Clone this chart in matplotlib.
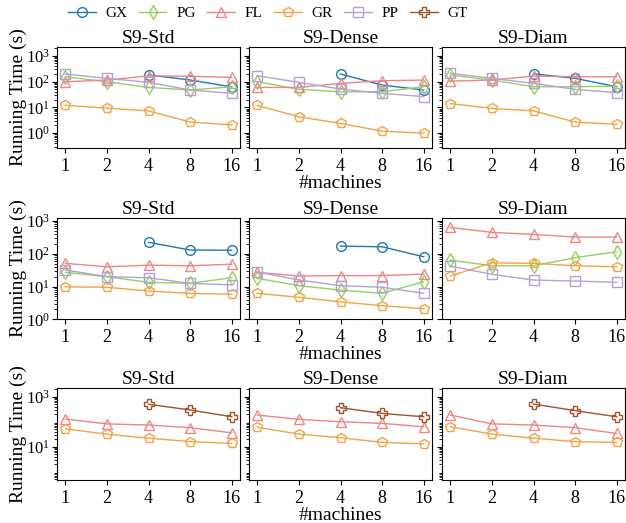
import numpy as np
import matplotlib
matplotlib.use("Agg")
import matplotlib.pyplot as plt
from matplotlib.ticker import LogLocator

plt.rcParams['font.family'] = ['Liberation Serif', 'DejaVu Serif']
plt.rcParams['mathtext.fontset'] = 'stix'

nan = np.nan

# x axis: number of machines
machines = ['1', '2', '4', '8', '16']
methods = ['GX', 'PG', 'FL', 'GR', 'PP', 'GT']
titles = ['S9-Std', 'S9-Dense', 'S9-Diam']

# row 1 running times (s)
r1_std = {'GX': [nan, nan, 180, 115, 62], 'PG': [153, 98, 59, 47, 62],
          'FL': [98, 114, 165, 160, 145], 'GR': [12, 9.3, 7.3, 2.7, 2.1],
          'PP': [195, 133, 93, 47, 35]}
r1_dense = {'GX': [nan, nan, 195, 73, 47], 'PG': [98, 50, 40, 40, 63],
            'FL': [59, 59, 85, 107, 114], 'GR': [12, 4.3, 2.4, 1.2, 1.0],
            'PP': [167, 93, 51, 35, 26]}
r1_diam = {'GX': [nan, nan, 200, 133, 63], 'PG': [178, 114, 63, 63, 66],
           'FL': [104, 114, 163, 153, 153], 'GR': [14, 9.1, 7.3, 2.7, 2.2],
           'PP': [208, 133, 85, 50, 37]}

# row 2 running times (s)
r2_std = {'GX': [nan, nan, 224, 130, 128], 'PG': [27, 20, 13.5, 12.5, 18.6],
          'FL': [51, 40, 45, 43, 48], 'GR': [9.8, 9.5, 7.3, 6.2, 5.8],
          'PP': [32, 20, 18.5, 12.5, 11.2]}
r2_dense = {'GX': [nan, nan, 171, 163, 81], 'PG': [17.8, 10.6, 7.8, 6.2, 14],
            'FL': [27, 21, 21.5, 21.5, 24], 'GR': [6.2, 4.7, 3.4, 2.6, 2.1],
            'PP': [28, 15.8, 10.6, 9.5, 6.2]}
r2_diam = {'PG': [64, 43, 43, 76, 115], 'FL': [635, 450, 390, 323, 323],
           'GR': [21, 53, 51, 43, 40], 'PP': [42, 23.6, 15.8, 14.7, 13.5]}

# row 3 running times (s)
r3_std = {'FL': [128, 82, 74, 58, 36], 'GR': [52, 32, 22, 16, 13.6],
          'GT': [nan, nan, 500, 295, 158]}
r3_dense = {'FL': [185, 125, 100, 86, 63], 'GR': [60, 32, 23, 15, 13],
            'GT': [nan, nan, 363, 215, 158]}
r3_diam = {'FL': [185, 82, 74, 58, 34], 'GR': [63, 32, 22, 16, 15],
           'GT': [nan, nan, 510, 277, 158]}

rows = [[r1_std, r1_dense, r1_diam],
        [r2_std, r2_dense, r2_diam],
        [r3_std, r3_dense, r3_diam]]
row_ylims = [(0.26, 2230), (1, 1260), (0.47, 2290)]
row_yticks = [[1, 10, 100, 1000], [1, 10, 100, 1000], [10, 1000]]

colors = {'GX': '#1f77b4', 'PG': '#93d160', 'FL': '#ef8585',
          'GR': '#f3a447', 'PP': '#b7a0d4', 'GT': '#a0522d'}
markers = {'GX': 'o', 'PG': 'd', 'FL': '^', 'GR': 'p', 'PP': 's', 'GT': 'P'}

W, H = 626, 523
fig = plt.figure(figsize=(W / 100, H / 100), dpi=100)

col_left = [57, 249, 442]
col_w = 183
row_box = [(46.7, 148.3), (217.7, 319.3), (387.7, 480)]

x = np.arange(len(machines))
handles = {}
for r, (top, bot) in enumerate(row_box):
    first = None
    for c in range(3):
        rect = [col_left[c] / W, 1 - bot / H, col_w / W, (bot - top) / H]
        ax = fig.add_axes(rect, sharey=first)
        if first is None:
            first = ax
        data = rows[r][c]
        for m in methods:
            if m not in data:
                continue
            ln, = ax.plot(x, data[m], color=colors[m], marker=markers[m],
                          markersize=7, markerfacecolor='none',
                          markeredgewidth=1.0, linewidth=1.0)
            handles[m] = ln
        ax.set_yscale('log')
        ax.set_yticks(row_yticks[r])
        ax.yaxis.set_minor_locator(LogLocator(base=10, subs=np.arange(2, 10), numticks=20))
        ax.set_ylim(*row_ylims[r])
        ax.set_xlim(-0.2, 4.2)
        ax.set_xticks(x)
        ax.set_xticklabels(machines)
        ax.tick_params(axis='x', labelsize=13)
        ax.tick_params(axis='y', labelsize=12, pad=1.5)
        ax.set_title(titles[c], fontsize=14, pad=3)
        if c == 0:
            ax.set_ylabel('Running Time (s)', fontsize=14)
            ax.yaxis.set_label_coords(-0.165, 0.5)
        else:
            ax.tick_params(axis='y', labelleft=False)
        if c == 1:
            ax.set_xlabel('#machines', fontsize=14, labelpad=0)

fig.legend([handles[m] for m in methods], methods, loc='center',
           bbox_to_anchor=(0.428, 0.975), ncol=6, frameon=False, fontsize=11,
           handlelength=1.8, handletextpad=0.65, columnspacing=0.75)

fig.savefig('out.png', dpi=100)
